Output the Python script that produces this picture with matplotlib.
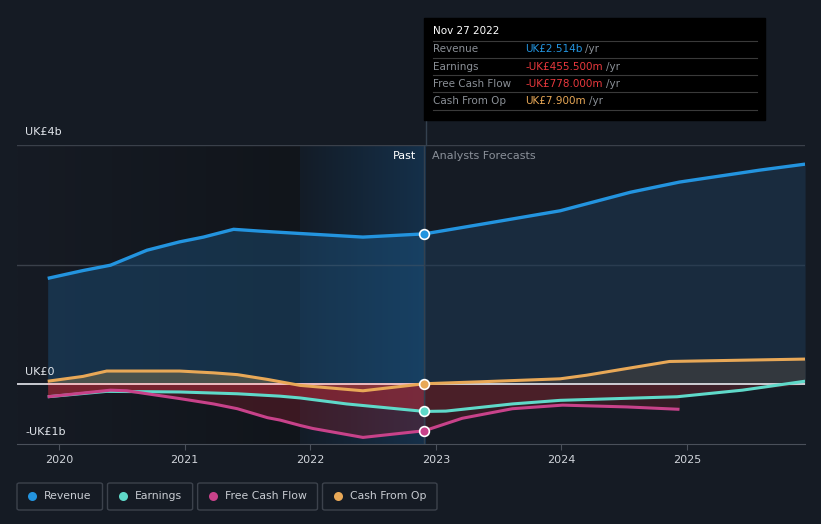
import numpy as np
import matplotlib.pyplot as plt
from matplotlib.patches import Rectangle, FancyBboxPatch
from matplotlib.colors import LinearSegmentedColormap

# data (values in UK£ billions, x in decimal years)
rev_x = [2019.91, 2020.19, 2020.41, 2020.70, 2020.96, 2021.15, 2021.39, 2021.60, 2021.92, 2022.42, 2022.91,
         2023.35, 2023.99, 2024.55, 2024.94, 2025.58, 2025.94]
rev_y = [1.77, 1.90, 1.99, 2.24, 2.38, 2.46, 2.59, 2.56, 2.52, 2.46, 2.514,
         2.67, 2.90, 3.21, 3.38, 3.58, 3.68]

cfo_x = [2019.91, 2020.19, 2020.38, 2020.96, 2021.23, 2021.42, 2021.66, 2021.92, 2022.42, 2022.91,
         2023.35, 2023.99, 2024.20, 2024.40, 2024.86, 2025.94]
cfo_y = [0.05, 0.13, 0.22, 0.22, 0.19, 0.16, 0.08, -0.02, -0.11, 0.0079,
         0.04, 0.09, 0.15, 0.22, 0.38, 0.42]

earn_x = [2019.91, 2020.38, 2020.96, 2021.42, 2021.76, 2021.92, 2022.29, 2022.91,
          2023.08, 2023.61, 2023.99, 2024.92, 2025.44, 2025.94]
earn_y = [-0.21, -0.12, -0.13, -0.16, -0.20, -0.23, -0.33, -0.4555,
          -0.45, -0.33, -0.27, -0.21, -0.10, 0.05]

fcf_x = [2019.91, 2020.41, 2020.54, 2020.96, 2021.23, 2021.42, 2021.66, 2021.76, 2021.92, 2022.02, 2022.42, 2022.91,
         2023.21, 2023.61, 2024.01, 2024.52, 2024.94]
fcf_y = [-0.21, -0.10, -0.11, -0.24, -0.33, -0.41, -0.56, -0.60, -0.69, -0.74, -0.89, -0.778,
         -0.57, -0.41, -0.35, -0.38, -0.42]

now = 2022.92
years = [2020, 2021, 2022, 2023, 2024, 2025]
tip_rows = [("Revenue", "UK£2.514b", "#2394df"),
            ("Earnings", "-UK£455.500m", "#e8383d"),
            ("Free Cash Flow", "-UK£778.000m", "#e8383d"),
            ("Cash From Op", "UK£7.900m", "#e8a857")]
legend_items = [("Revenue", "#2394df"), ("Earnings", "#5fd9c9"),
                ("Free Cash Flow", "#c8428a"), ("Cash From Op", "#e8a857")]

BG = "#151b24"
W, H = 821, 524

fig = plt.figure(figsize=(W / 100, H / 100), dpi=100, facecolor=BG)
ax = fig.add_axes([17 / W, (H - 444) / H, (805 - 17) / W, (444 - 145) / H])
ax.set_facecolor(BG)
x0, x1 = 2020 + (17 - 59) / 125.6, 2020 + (805 - 59) / 125.6
ax.set_xlim(x0, x1)
ax.set_ylim(-1.0, 4.0)

# background shading: older history darker, last year highlighted
cm_old = LinearSegmentedColormap.from_list("o", ["#161b24", "#11151b"])
ax.imshow(np.linspace(0, 1, 200).reshape(1, -1), cmap=cm_old, aspect="auto",
          extent=[x0, now - 1.0, -1.0, 4.0], zorder=0, interpolation="bilinear")
cm_past = LinearSegmentedColormap.from_list("p", ["#131c27", "#15304a"])
ax.imshow(np.linspace(0, 1, 200).reshape(1, -1), cmap=cm_past, aspect="auto",
          extent=[now - 1.0, now, -1.0, 4.0], zorder=0, interpolation="bilinear")

# gridlines
for g in [4.0, 2.0]:
    ax.axhline(g, color="#3a404a", lw=1, zorder=1)
ax.axhline(0, color="#e8e8ee", lw=1.2, zorder=4)
ax.plot([rev_x[0], now], [0, 0], color="#f0b4b8", lw=1.2, zorder=4)


def split(xs, ys):
    xs, ys = np.array(xs), np.array(ys)
    p = xs <= now + 0.02
    f = xs >= now - 0.02
    return (xs[p], ys[p]), (xs[f], ys[f])


# fills
(px, py), (fx, fy) = split(rev_x, rev_y)
ax.fill_between(px, py, 0, color="#1e5a8a", alpha=0.4, lw=0, zorder=2)
ax.fill_between(fx, fy, 0, color="#1d3a55", alpha=0.55, lw=0, zorder=2)
(px, py), (fx, fy) = split(cfo_x, cfo_y)
ax.fill_between(px, py, 0, color="#8a7a50", alpha=0.45, lw=0, zorder=2)
ax.fill_between(fx, fy, 0, color="#3a3c3e", alpha=0.8, lw=0, zorder=2)
(px, py), (fx, fy) = split(earn_x, earn_y)
ax.fill_between(px, py, 0, color="#c8323e", alpha=0.5, lw=0, zorder=2)
ax.fill_between(fx, np.minimum(fy, 0), 0, color="#7a2832", alpha=0.4, lw=0, zorder=2)
(px, py), (fx, fy) = split(fcf_x, fcf_y)
ax.fill_between(px, py, 0, color="#8a2030", alpha=0.35, lw=0, zorder=2)
ax.fill_between(fx, fy, 0, color="#5a1e28", alpha=0.45, lw=0, zorder=2)

# lines
ax.plot(rev_x, rev_y, color="#2394df", lw=2.4, zorder=5, solid_capstyle="butt")
ax.plot(cfo_x, cfo_y, color="#e8a857", lw=2.2, zorder=5, solid_capstyle="butt")
ax.plot(earn_x, earn_y, color="#5fd9c9", lw=2.2, zorder=5, solid_capstyle="butt")
ax.plot(fcf_x, fcf_y, color="#c8428a", lw=2.2, zorder=5, solid_capstyle="butt")

# current markers
for xs, ys, c in [(rev_x, rev_y, "#2394df"), (cfo_x, cfo_y, "#e8a857"),
                  (earn_x, earn_y, "#5fd9c9"), (fcf_x, fcf_y, "#c8428a")]:
    i = int(np.argmin(np.abs(np.array(xs) - now)))
    ax.plot(xs[i], ys[i], "o", ms=7, color=c, mec="white", mew=1.2, zorder=7)

# vertical marker line
ax.axvline(now - 0.01, color="#34414f", lw=1, zorder=3)

for s in ["top", "right", "left"]:
    ax.spines[s].set_visible(False)
ax.spines["bottom"].set_color("#4a505a")
ax.set_yticks([])
ax.set_xticks(years)
ax.set_xticklabels([str(y) for y in years])
ax.tick_params(axis="x", colors="#4a505a", labelcolor="#d0d4da", labelsize=8, length=4, pad=4)

ax.text(now - 0.08, 3.82, "Past", color="#ffffff", fontsize=8, ha="right", va="center", zorder=8)
ax.text(now + 0.05, 3.82, "Analysts Forecasts", color="#8a9099", fontsize=8, ha="left", va="center", zorder=8)


def fy(py):
    return 1 - py / H


def fxp(px):
    return px / W


# y labels
fig.text(fxp(25), fy(132), "UK£4b", color="#e0e4ea", fontsize=8, va="center")
fig.text(fxp(25), fy(372), "UK£0", color="#e0e4ea", fontsize=8, va="center")
fig.text(fxp(25), fy(432), "-UK£1b", color="#e0e4ea", fontsize=8, va="center")

# tooltip
fig.lines.append(plt.Line2D([fxp(426), fxp(426)], [fy(120), fy(145)], transform=fig.transFigure,
                            color="#34414f", lw=1))
fig.patches.append(Rectangle((fxp(424), fy(120)), (765 - 424) / W, (120 - 18) / H,
                             transform=fig.transFigure, color="#000000", zorder=10))
fig.text(fxp(433), fy(31), "Nov 27 2022", color="#ffffff", fontsize=7.5, va="center", zorder=11)
for yy in [41, 58, 75, 92, 110]:
    fig.lines.append(plt.Line2D([fxp(433), fxp(757)], [fy(yy), fy(yy)], transform=fig.transFigure,
                                color="#3a3a3a", lw=0.8, zorder=11))
for k, (lab, val, c) in enumerate(tip_rows):
    yy = 49 + k * 17.5
    fig.text(fxp(433), fy(yy), lab, color="#8a8f96", fontsize=7.5, va="center", zorder=11)
    t = fig.text(fxp(525), fy(yy), val, color=c, fontsize=7.5, va="center", zorder=11)
    fig.canvas.draw()
    bb = t.get_window_extent()
    fig.text(bb.x1 / W + 3 / W, fy(yy), "/yr", color="#8a8f96", fontsize=7.5, va="center", zorder=11)

# legend boxes
lx = 17
for lab, c in legend_items:
    t = fig.text(fxp(lx + 27), fy(496), lab, color="#c8ccd2", fontsize=7.8, va="center")
    fig.canvas.draw()
    bb = t.get_window_extent()
    w = (bb.x1 - lx) + 11
    fig.patches.append(FancyBboxPatch((fxp(lx), fy(510)), w / W, 27 / H, transform=fig.transFigure,
                                      boxstyle="round,pad=0,rounding_size=0.003", fc="none",
                                      ec="#3c424c", lw=1))
    fig.lines.append(plt.Line2D([fxp(lx + 15)], [fy(496)], transform=fig.transFigure,
                                marker="o", ms=6.5, color=c, mew=0))
    lx = lx + w + 5

fig.savefig("out.png", dpi=100, facecolor=BG)
